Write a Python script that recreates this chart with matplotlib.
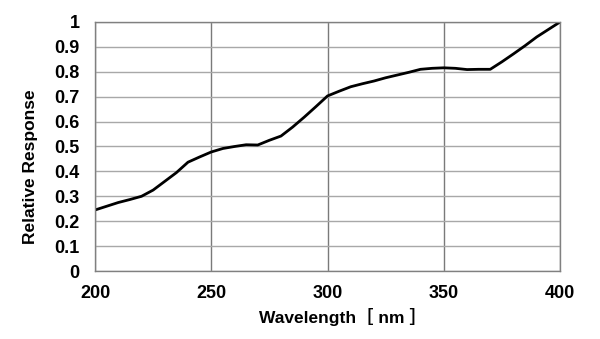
import matplotlib
matplotlib.use("Agg")
import matplotlib.pyplot as plt

# Relative spectral response curve
wavelength = [200, 205, 210, 215, 220, 225, 230, 235, 240, 245, 250, 255, 260,
              265, 270, 275, 280, 285, 290, 295, 300, 305, 310, 315, 320, 325,
              330, 335, 340, 345, 350, 355, 360, 365, 370, 375, 380, 385, 390,
              395, 400]
response = [0.245, 0.26, 0.275, 0.287, 0.300, 0.325, 0.360, 0.395, 0.437, 0.458,
            0.478, 0.492, 0.500, 0.507, 0.506, 0.525, 0.542, 0.578, 0.618, 0.660,
            0.703, 0.722, 0.740, 0.752, 0.763, 0.776, 0.787, 0.798, 0.810, 0.814,
            0.816, 0.814, 0.809, 0.810, 0.810, 0.840, 0.872, 0.905, 0.940, 0.970,
            1.000]

x_ticks = [200, 250, 300, 350, 400]
y_ticks = [0, 0.1, 0.2, 0.3, 0.4, 0.5, 0.6, 0.7, 0.8, 0.9, 1]
y_tick_labels = ["0", "0.1", "0.2", "0.3", "0.4", "0.5", "0.6", "0.7", "0.8", "0.9", "1"]

fig = plt.figure(figsize=(6.0, 3.39), dpi=100)
ax = fig.add_axes([95 / 600, 1 - 271 / 339, 465 / 600, 249 / 339])

ax.plot(wavelength, response, color="black", linewidth=2.0, solid_joinstyle="round")

ax.set_xlim(200, 400)
ax.set_ylim(0, 1)
ax.set_xticks(x_ticks)
ax.set_yticks(y_ticks)
ax.set_yticklabels(y_tick_labels)

ax.grid(axis="y", color="#a8a8a8", linewidth=1.0)
ax.grid(axis="x", color="#7a7a7a", linewidth=1.0)
ax.set_axisbelow(True)
for side in ax.spines.values():
    side.set_color("#808080")
    side.set_linewidth(1.0)

ax.tick_params(length=0)
ax.tick_params(axis="y", pad=11)
ax.tick_params(axis="x", pad=10)
for lbl in ax.get_xticklabels() + ax.get_yticklabels():
    lbl.set_fontfamily("Liberation Sans")
    lbl.set_fontweight("bold")
    lbl.set_fontsize(13)

ax.set_xlabel("Wavelength\uff3b nm \uff3d", fontsize=12.5, fontweight="bold",
              family=["Liberation Sans", "Noto Sans CJK JP"])
ax.xaxis.set_label_coords(0.532, -0.15)
ax.set_ylabel("Relative Response", fontsize=12.5, fontweight="bold",
              family="Liberation Sans")
ax.yaxis.set_label_coords(-0.122, 0.418)

fig.savefig("out.png", dpi=100, facecolor="white")
